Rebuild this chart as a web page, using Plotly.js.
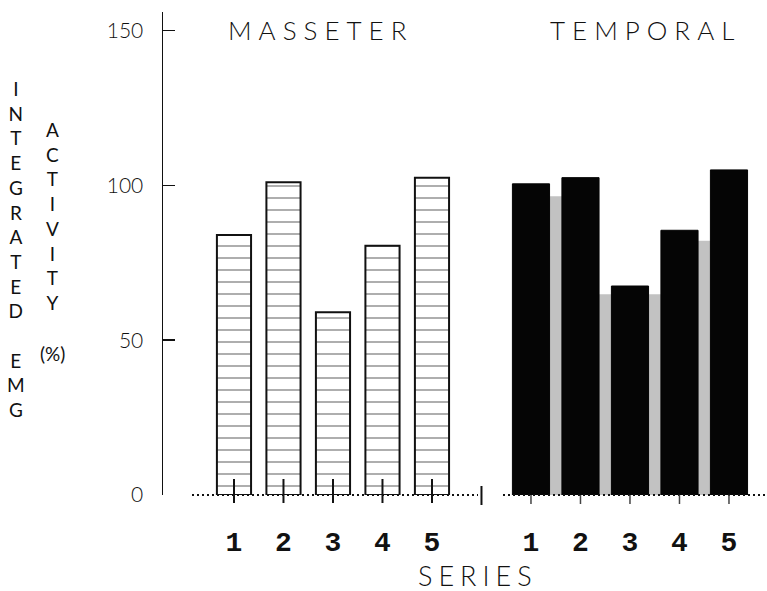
<!DOCTYPE html>
<html>
<head>
<meta charset="utf-8">
<script src="https://cdn.plot.ly/plotly-3.0.1.min.js"></script>
<style>
  html, body { margin: 0; padding: 0; background: #fff; }
  #chart { width: 767px; height: 591px; }
</style>
</head>
<body>
<div id="chart"></div>
<script>
// ---- data ----
const seriesLabels   = ['1', '2', '3', '4', '5'];
const masseterPos    = [1, 2, 3, 4, 5];
const masseterValues = [84, 101, 59, 80.5, 102.5];
const temporalPos    = [7, 8, 9, 10, 11];
const temporalValues = [100.5, 102.5, 67.5, 85.5, 105];
const gapMarkPos     = 6;
const yTickValues    = [0, 50, 100, 150];
const groupTitles    = ['MASSETER', 'TEMPORAL'];

// ---- layout geometry ----
const W = 767, H = 591;
const M = { l: 163, r: 0, t: 12, b: 96 };
const PW = W - M.l - M.r, PH = H - M.t - M.b;
const XR = [-0.434, 11.768];
const YR = [0, 156];
const px2x = p => XR[0] + (p - M.l) / PW * (XR[1] - XR[0]);
const px2py = p => (H - M.b - p) / PH;          // pixel y -> paper y
const INK = '#111';
const thin = 'Lato, "Open Sans", sans-serif';

const traces = [
  {
    type: 'bar', x: masseterPos, y: masseterValues, width: 0.69,
    marker: {
      color: '#fff',
      line: { color: INK, width: 2 },
      pattern: { shape: '-', size: 12, solidity: 0.1, fgcolor: '#777', bgcolor: '#fff' }
    },
    hoverinfo: 'skip'
  },
  {
    type: 'bar', x: temporalPos, y: temporalValues, width: 0.75,
    marker: { color: '#050505', line: { color: '#050505', width: 1 } },
    hoverinfo: 'skip'
  }
];

const shapes = [];
// grey scanner halo between the dark bars
for (let i = 0; i < temporalPos.length - 1; i++) {
  const h = 0.96 * Math.min(temporalValues[i], temporalValues[i + 1]);
  shapes.push({
    type: 'rect', layer: 'below', xref: 'x', yref: 'y',
    x0: temporalPos[i] + 0.3, x1: temporalPos[i + 1] - 0.3, y0: 0, y1: h,
    fillcolor: '#c2c2c2', line: { width: 0 }
  });
}
// dotted baseline
shapes.push({ type: 'line', xref: 'x', yref: 'paper', x0: px2x(192), x1: px2x(478), y0: 0, y1: 0,
  line: { color: INK, width: 2, dash: '2px,3px' }, layer: 'above' });
shapes.push({ type: 'line', xref: 'x', yref: 'paper', x0: px2x(503), x1: XR[1], y0: 0, y1: 0,
  line: { color: INK, width: 2, dash: '2px,3px' }, layer: 'above' });
// category tick marks
masseterPos.forEach(p => shapes.push({ type: 'line', xref: 'x', yref: 'paper', x0: p, x1: p,
  y0: -8 / PH, y1: 16 / PH, line: { color: INK, width: 2 }, layer: 'above' }));
temporalPos.forEach(p => shapes.push({ type: 'line', xref: 'x', yref: 'paper', x0: p, x1: p,
  y0: -9 / PH, y1: 0, line: { color: '#444', width: 1.5 }, layer: 'above' }));
shapes.push({ type: 'line', xref: 'x', yref: 'paper', x0: gapMarkPos, x1: gapMarkPos,
  y0: -10 / PH, y1: 9 / PH, line: { color: INK, width: 2 }, layer: 'above' });

const spaced = (t, ls) => '<span style="letter-spacing:' + ls + 'px">' + t + '</span>';

const annotations = [
  { text: spaced(groupTitles[0], 7), xref: 'x', yref: 'paper', x: px2x(320), y: px2py(30),
    xanchor: 'center', yanchor: 'middle', showarrow: false,
    font: { family: thin, weight: 300, size: 26, color: INK } },
  { text: spaced(groupTitles[1], 7), xref: 'x', yref: 'paper', x: px2x(645), y: px2py(30),
    xanchor: 'center', yanchor: 'middle', showarrow: false,
    font: { family: thin, weight: 300, size: 26, color: INK } },
  { text: spaced('SERIES', 6), xref: 'paper', yref: 'paper', x: (478 - M.l) / PW, y: px2py(575),
    xanchor: 'center', yanchor: 'middle', showarrow: false,
    font: { family: thin, weight: 300, size: 27, color: INK } },
  { text: 'INTEGRATED EMG'.split('').map(c => c === ' ' ? '&nbsp;' : c).join('<br>'),
    xref: 'paper', yref: 'paper', x: (16 - M.l) / PW, y: px2py(249),
    xanchor: 'center', yanchor: 'middle', showarrow: false, align: 'center',
    font: { family: thin, weight: 400, size: 19, color: INK } },
  { text: 'ACTIVITY'.split('').join('<br>'),
    xref: 'paper', yref: 'paper', x: (52 - M.l) / PW, y: px2py(216),
    xanchor: 'center', yanchor: 'middle', showarrow: false, align: 'center',
    font: { family: thin, weight: 400, size: 19, color: INK } },
  { text: '(%)', xref: 'paper', yref: 'paper', x: (52 - M.l) / PW, y: px2py(353),
    xanchor: 'center', yanchor: 'middle', showarrow: false,
    font: { family: thin, weight: 400, size: 19, color: INK } }
];

const layout = {
  width: W, height: H,
  margin: M,
  paper_bgcolor: '#fff', plot_bgcolor: '#fff',
  showlegend: false,
  barmode: 'overlay',
  xaxis: {
    range: XR, fixedrange: true,
    tickvals: masseterPos.concat(temporalPos),
    ticktext: seriesLabels.concat(seriesLabels),
    ticks: '', showline: false, showgrid: false, zeroline: false,
    ticklabelstandoff: 27,
    tickfont: { family: 'Courier New, Liberation Mono, monospace', weight: 700, size: 28, color: INK }
  },
  yaxis: {
    range: YR, fixedrange: true,
    tickvals: yTickValues,
    ticks: 'inside', ticklen: 12, tickwidth: 1.5, tickcolor: INK,
    showline: true, linewidth: 1.5, linecolor: INK,
    showgrid: false, zeroline: false,
    ticklabelstandoff: 14,
    tickfont: { family: thin, weight: 300, size: 21, color: INK }
  },
  shapes: shapes,
  annotations: annotations
};

Plotly.newPlot('chart', traces, layout, { staticPlot: true, displayModeBar: false });
</script>
</body>
</html>
